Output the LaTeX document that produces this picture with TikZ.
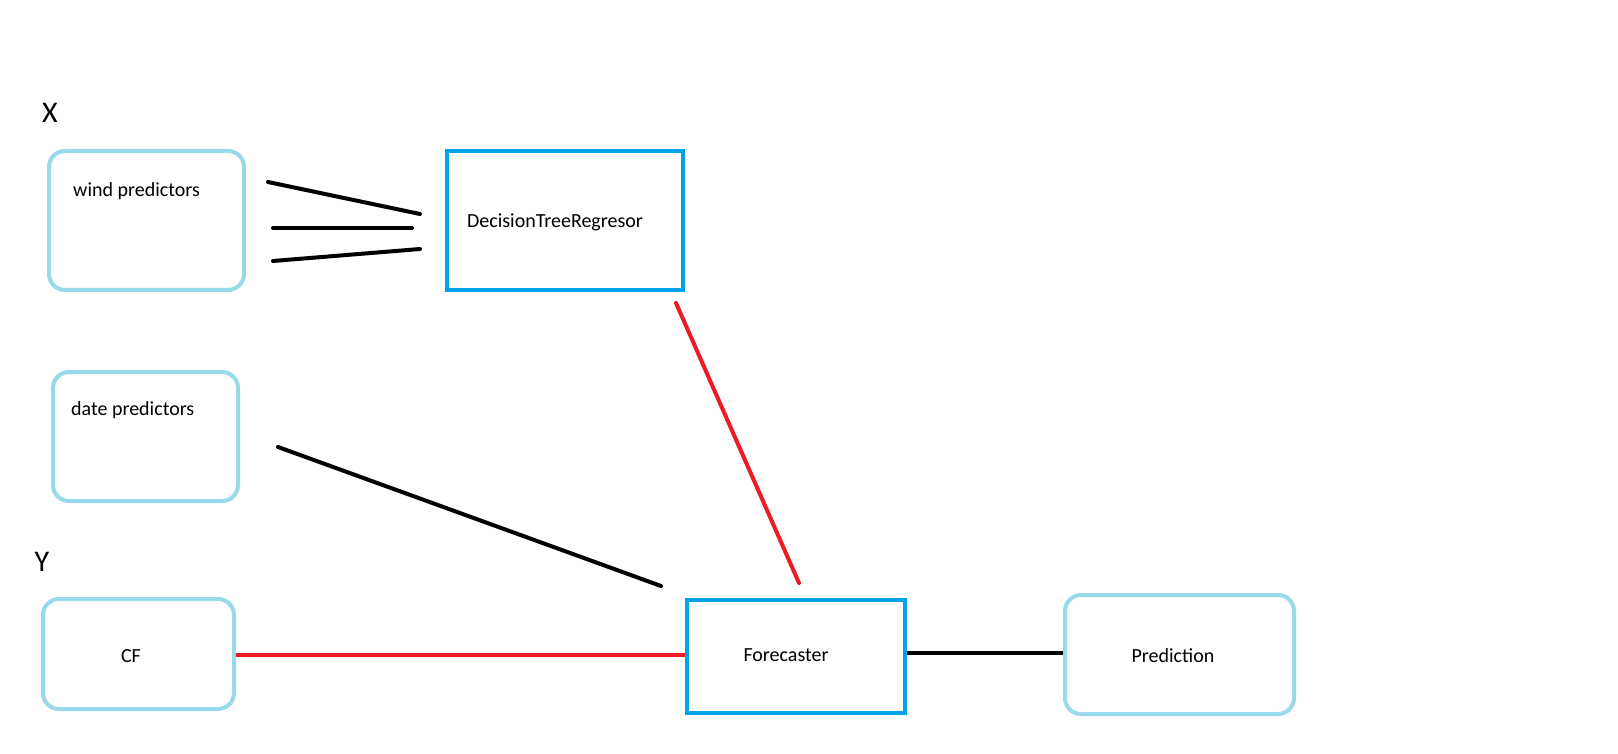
\documentclass[tikz,border=0pt]{standalone}
\usepackage{fontspec}
\setmainfont{Carlito}
\definecolor{lblue}{RGB}{153,217,234}
\definecolor{dblue}{RGB}{0,162,232}
\definecolor{pred}{RGB}{237,28,36}
\tikzset{
  softbox/.style={draw=lblue, line width=4pt, rounded corners=16pt, inner sep=0pt},
  hardbox/.style={draw=dblue, line width=4pt, inner sep=0pt},
  lbl/.style={inner sep=0pt, font=\fontsize{20}{24}\selectfont},
  biglbl/.style={inner sep=0pt, font=\fontsize{30}{36}\selectfont},
  blk/.style={draw=black, line width=4pt, line cap=round},
  redl/.style={draw=pred, line width=4pt, line cap=round}
}
\begin{document}
\begin{tikzpicture}[x=1pt,y=-1pt]
\fill[white] (0,0) rectangle (1618,754);
\useasboundingbox (0,0) rectangle (1618,754);
% boxes
\node[softbox, minimum width=195pt, minimum height=139pt] (wind) at (146.5,220.5) {};
\node[softbox, minimum width=185pt, minimum height=129pt] (date) at (145.5,436.5) {};
\node[softbox, minimum width=191pt, minimum height=110pt] (cf) at (138.5,654) {};
\node[softbox, minimum width=229pt, minimum height=119pt] (pred) at (1179.5,654.5) {};
\node[hardbox, minimum width=236pt, minimum height=139pt] (dtr) at (565,220.5) {};
\node[hardbox, minimum width=218pt, minimum height=113pt] (fc) at (796,656.5) {};
% texts
\node[biglbl] (xl) at (50,113) {X};
\node[biglbl] (yl) at (42,562) {Y};
\node[lbl, anchor=west] (windt) at (73,191) {wind predictors};
\node[lbl, anchor=west] (datet) at (71,410) {date predictors};
\node[lbl] (cft) at (131,656) {CF};
\node[lbl] (predt) at (1173,656) {Prediction};
\node[lbl] (dtrt) at (555,222) {DecisionTreeRegresor};
\node[lbl] (fct) at (786,655) {Forecaster};
% connector end points
\coordinate (w1a) at (268,182); \coordinate (w1b) at (420,214);
\coordinate (w2a) at (273,228); \coordinate (w2b) at (412,228);
\coordinate (w3a) at (273,261); \coordinate (w3b) at (420,249);
\coordinate (da) at (278,447); \coordinate (db) at (661,586);
\coordinate (ra) at (676,303); \coordinate (rb) at (799,583);
% connectors
\draw[blk] (w1a) -- (w1b);
\draw[blk] (w2a) -- (w2b);
\draw[blk] (w3a) -- (w3b);
\draw[blk] (da) -- (db);
\draw[redl] (ra) -- (rb);
\draw[redl, line cap=butt] (cf.east) ++(0,1) -- (fc.west |- 0,655);
\draw[blk, line cap=butt] (fc.east |- 0,653) -- (pred.west |- 0,653);
\end{tikzpicture}
\end{document}
